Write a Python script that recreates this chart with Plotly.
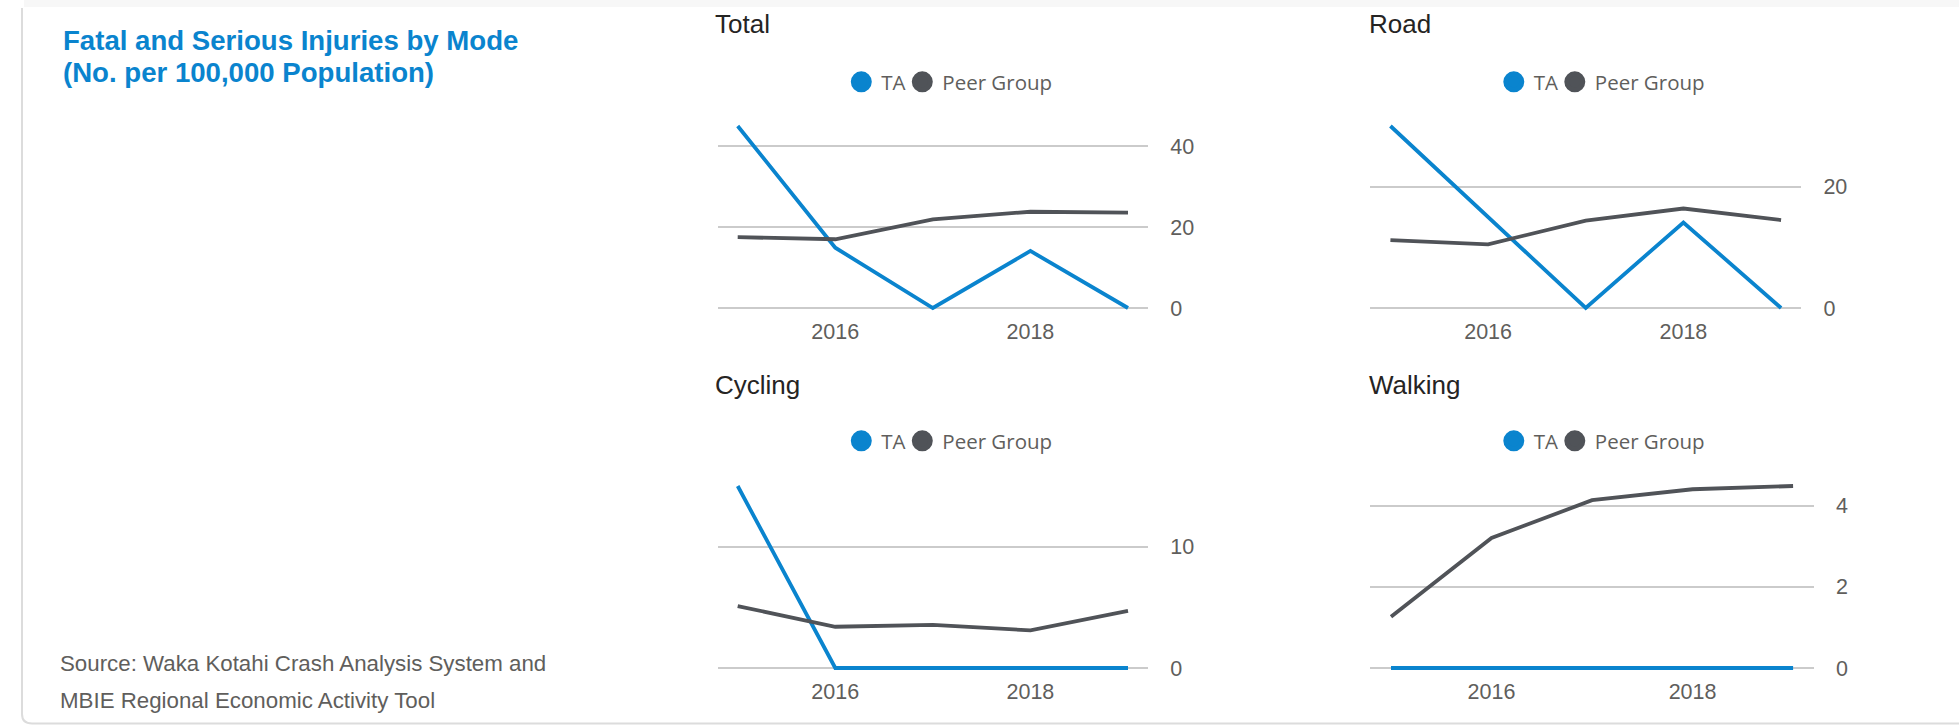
import plotly.graph_objects as go

# ---------------- data ----------------
years = [2015, 2016, 2017, 2018, 2019]
x_tick_vals = [2016, 2018]
x_tick_text = ["2016", "2018"]

total_ta = [45.0, 14.9, 0, 14.1, 0]
total_peer = [17.5, 17.0, 21.9, 23.8, 23.6]
road_ta = [30.0, 14.9, 0, 14.1, 0]
road_peer = [11.2, 10.5, 14.4, 16.4, 14.5]
cycling_ta = [15.0, 0, 0, 0, 0]
cycling_peer = [5.1, 3.4, 3.55, 3.1, 4.7]
walking_ta = [0, 0, 0, 0, 0]
walking_peer = [1.26, 3.2, 4.13, 4.40, 4.48]

panel_titles = ["Total", "Road", "Cycling", "Walking"]
series_names = ["TA", "Peer Group"]
y_tick_vals = [[0, 20, 40], [0, 20], [0, 10], [0, 2, 4]]

main_title = ["Fatal and Serious Injuries by Mode", "(No. per 100,000 Population)"]
source_text = ["Source: Waka Kotahi Crash Analysis System and",
               "MBIE Regional Economic Activity Tool"]

# ---------------- style ----------------
W, H_REF = 1959, 725
H_FIG = 734          # rendered page height (captured area is slightly taller than 725)
TA_COLOR = "#0A84CE"
PEER_COLOR = "#505358"
GRID_COLOR = "#CBCBCB"
TICK_COLOR = "#605E5C"
TITLE_COLOR = "#252423"
BLUE_TITLE = "#0A84CE"
FONT = "Liberation Sans, Arial, sans-serif"
LEG_FONT = "Open Sans, Noto Sans, sans-serif"


def fx(p):
    return p / W


def fy(p):
    return 1 - p / H_REF


# pixel geometry of each panel (reference pixels)
panels = [
    dict(x0=717.7, x1=1148.0, yt=126, yb=308, tlx=713, tly=24, legx=949.3, legy=82),
    dict(x0=1370.4, x1=1801.1, yt=126, yb=308, tlx=1366.8, tly=24, legx=1601.8, legy=82),
    dict(x0=717.7, x1=1148.0, yt=486, yb=668, tlx=713, tly=385, legx=949.3, legy=441),
    dict(x0=1370.4, x1=1813.7, yt=486, yb=668, tlx=1366.8, tly=385, legx=1601.8, legy=441),
]
data_sets = [(total_ta, total_peer), (road_ta, road_peer),
             (cycling_ta, cycling_peer), (walking_ta, walking_peer)]

X_RANGE = [2014.795, 2019.205]
PAD = 3  # px of extra room so thick lines at the extremes are not clipped

fig = go.Figure()
layout = dict(
    width=W, height=H_FIG, margin=dict(l=0, r=0, t=0, b=0),
    paper_bgcolor="white", plot_bgcolor="white",
    showlegend=True, annotations=[], shapes=[],
)

for i, (p, (ta, peer)) in enumerate(zip(panels, data_sets)):
    n = "" if i == 0 else str(i + 1)
    xa, ya = "x" + n, "y" + n
    leg = "legend" + n
    ymax = max(max(ta), max(peer))
    upp = ymax / (p["yb"] - p["yt"])  # data units per pixel
    yr = [-PAD * upp, ymax + PAD * upp]

    for vals, color, name in [(ta, TA_COLOR, series_names[0]), (peer, PEER_COLOR, series_names[1])]:
        fig.add_trace(go.Scatter(x=years, y=vals, mode="lines", name=name,
                                 line=dict(color=color, width=3.8),
                                 xaxis=xa, yaxis=ya, showlegend=False,
                                 hoverinfo="x+y+name"))
    for j, (color, name) in enumerate([(TA_COLOR, series_names[0]), (PEER_COLOR, series_names[1])]):
        extra = dict(legendwidth=16) if j == 0 else {}
        fig.add_trace(go.Scatter(x=[None], y=[None], mode="markers", name=name,
                                 marker=dict(color=color, size=16, symbol="circle",
                                             line=dict(color=color, width=5)),
                                 xaxis=xa, yaxis=ya, legend=leg, showlegend=True, **extra))

    layout["xaxis" + n] = dict(
        domain=[fx(p["x0"]), fx(p["x1"])], anchor=ya, range=X_RANGE,
        showgrid=False, zeroline=False, showline=False,
        tickmode="array", tickvals=x_tick_vals, ticktext=x_tick_text,
        ticks="outside", ticklen=1, tickcolor="rgba(0,0,0,0)",
        tickfont=dict(family=FONT, size=21.5, color=TICK_COLOR),
        fixedrange=True,
    )
    layout["yaxis" + n] = dict(
        domain=[fy(p["yb"] + PAD), fy(p["yt"] - PAD)], anchor=xa, range=yr,
        side="right", showgrid=True, gridcolor=GRID_COLOR, gridwidth=1.5,
        zeroline=False, showline=False,
        tickmode="array", tickvals=y_tick_vals[i],
        ticktext=[str(v) for v in y_tick_vals[i]],
        ticks="outside", ticklen=17, tickcolor="rgba(0,0,0,0)",
        tickfont=dict(family=FONT, size=21.5, color=TICK_COLOR),
        fixedrange=True,
    )
    layout[leg] = dict(
        orientation="h", x=fx(p["legx"]), xanchor="center",
        y=fy(p["legy"]), yanchor="middle", bgcolor="rgba(0,0,0,0)",
        font=dict(family=LEG_FONT, size=20.5, color=TICK_COLOR),
        itemwidth=30, tracegroupgap=0, itemclick=False, itemdoubleclick=False,
    )
    layout["annotations"].append(dict(
        text=panel_titles[i], x=fx(p["tlx"]), y=fy(p["tly"]), xref="paper", yref="paper",
        xanchor="left", yanchor="middle", showarrow=False,
        font=dict(family=FONT, size=26, color=TITLE_COLOR)))

# main title and source (left block)
for txt, yc in zip(main_title, [40, 72.5]):
    layout["annotations"].append(dict(
        text="<b>" + txt + "</b>", x=fx(61), y=fy(yc), xref="paper", yref="paper",
        xanchor="left", yanchor="middle", showarrow=False,
        font=dict(family=FONT, size=27.6, color=BLUE_TITLE)))
for txt, yc in zip(source_text, [663, 700]):
    layout["annotations"].append(dict(
        text=txt, x=fx(58), y=fy(yc), xref="paper", yref="paper",
        xanchor="left", yanchor="middle", showarrow=False,
        font=dict(family=FONT, size=22.3, color=TICK_COLOR)))

# card decoration: top grey band, left border with rounded bottom corner
layout["shapes"].append(dict(type="rect", xref="paper", yref="paper",
                             x0=fx(24), x1=1, y0=fy(7), y1=1,
                             fillcolor="#F7F7F7", line=dict(width=0), layer="below"))
layout["shapes"].append(dict(
    type="path", xref="paper", yref="paper",
    path=f"M {fx(22)},{fy(8)} L {fx(22)},{fy(714)} Q {fx(22)},{fy(723.5)} {fx(32)},{fy(723.5)} L 1,{fy(723.5)}",
    line=dict(color="#DCDCDC", width=2), layer="below"))

fig.update_layout(**layout)

page_fix = (
    "var de=document.documentElement,b=document.body;"
    "de.style.margin='0';de.style.padding='0';de.style.overflow='hidden';"
    "b.style.margin='0';b.style.padding='0';b.style.overflow='hidden';"
)
fig.write_html("out.html", config={"displayModeBar": False}, post_script=page_fix)
